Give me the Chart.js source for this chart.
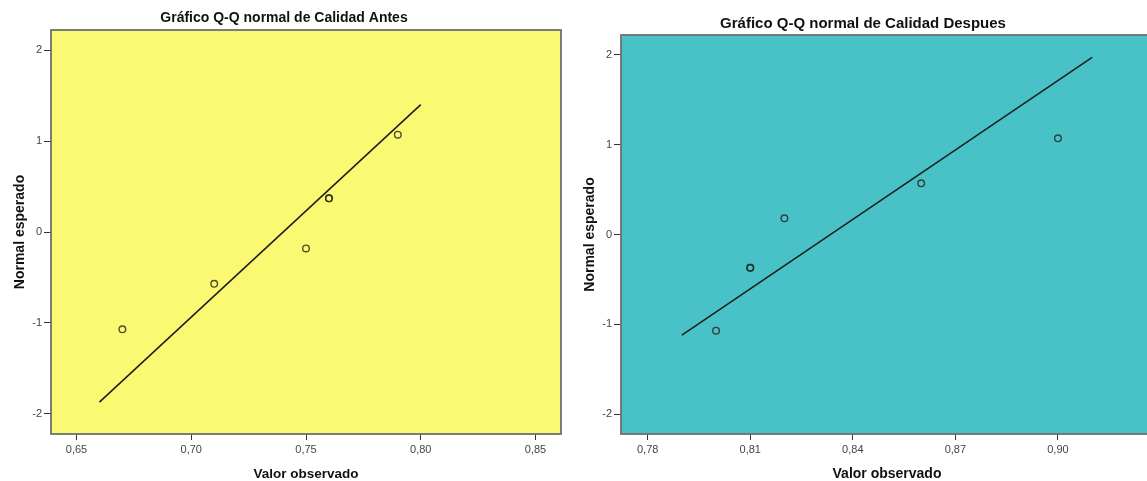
<!DOCTYPE html>
<html>
<head>
<meta charset="utf-8">
<script src="https://cdn.jsdelivr.net/npm/chart.js@4.4.1/dist/chart.umd.min.js"></script>
<style>
  html, body { margin: 0; padding: 0; background: #ffffff; overflow: hidden; width: 1147px; height: 481px; }
  #antes { position: absolute; left: 0; top: 0; }
  #despues { position: absolute; left: 573px; top: 0; }
</style>
</head>
<body>
<canvas id="antes" width="573" height="481"></canvas>
<canvas id="despues" width="600" height="481"></canvas>
<script>
// Calidad Antes: observed values, expected normal scores and reference line
const antesObservado = [0.67, 0.71, 0.75, 0.76, 0.76, 0.79];
const antesEsperado  = [-1.07, -0.57, -0.18, 0.37, 0.37, 1.07];
const antesLineaX    = [0.66, 0.80];
const antesLineaY    = [-1.87, 1.40];
const antesTicksX    = [0.65, 0.70, 0.75, 0.80, 0.85];

// Calidad Despues
const despuesObservado = [0.80, 0.81, 0.81, 0.82, 0.86, 0.90];
const despuesEsperado  = [-1.07, -0.37, -0.37, 0.18, 0.57, 1.07];
const despuesLineaX    = [0.79, 0.91];
const despuesLineaY    = [-1.12, 1.97];
const despuesTicksX    = [0.78, 0.81, 0.84, 0.87, 0.90];

const ticksY = [-2, -1, 0, 1, 2];

const FONT = '"Liberation Sans", Arial, sans-serif';

// Fills the plot area and frames it
const plotFrame = {
  id: 'plotFrame',
  beforeDraw(chart, args, opts) {
    const { ctx, chartArea: a } = chart;
    ctx.save();
    ctx.fillStyle = opts.fill;
    ctx.fillRect(a.left, a.top, a.right - a.left, a.bottom - a.top);
    ctx.restore();
  },
  afterDraw(chart, args, opts) {
    const { ctx, chartArea: a } = chart;
    ctx.save();
    ctx.strokeStyle = opts.stroke;
    ctx.lineWidth = opts.width;
    ctx.strokeRect(a.left, a.top, a.right - a.left, a.bottom - a.top);
    ctx.restore();
  }
};

const pairs = (xs, ys) => xs.map((x, i) => ({ x: x, y: ys[i] }));

function qqChart(id, s) {
  return new Chart(document.getElementById(id), {
    type: 'scatter',
    data: {
      datasets: [
        {
          data: pairs(s.lineX, s.lineY),
          showLine: true,
          pointRadius: 0,
          borderColor: '#1c1c1c',
          borderWidth: 1.5,
          fill: false,
          order: 2
        },
        {
          data: pairs(s.obs, s.esp),
          showLine: false,
          pointRadius: 3.3,
          pointBorderWidth: 1.4,
          pointBorderColor: 'rgba(35,35,25,0.8)',
          pointBackgroundColor: 'rgba(0,0,0,0)',
          order: 1
        }
      ]
    },
    options: {
      responsive: false,
      animation: false,
      devicePixelRatio: 1,
      layout: { padding: { left: s.padL, right: s.padR, top: 0, bottom: 0 } },
      plugins: {
        legend: { display: false },
        tooltip: { enabled: false },
        title: {
          display: true,
          text: s.title,
          color: '#111111',
          font: { family: FONT, size: s.titleSize, weight: 'bold', lineHeight: 1.2 },
          padding: { top: s.titleTop, bottom: s.titleBottom }
        },
        plotFrame: { fill: s.fill, stroke: '#6f6f6f', width: 1.8 }
      },
      scales: {
        x: {
          type: 'linear',
          min: s.xMin,
          max: s.xMax,
          afterBuildTicks: sc => { sc.ticks = s.ticksX.map(v => ({ value: v })); },
          afterFit: sc => { sc.height = 47; },
          grid: { drawOnChartArea: false, drawTicks: true, tickLength: 6, color: '#333333', lineWidth: 1 },
          border: { display: false },
          ticks: {
            padding: 3,
            color: '#444444',
            font: { family: FONT, size: 11 },
            maxRotation: 0,
            autoSkip: false,
            callback: v => v.toFixed(2).replace('.', ',')
          },
          title: {
            display: true,
            text: 'Valor observado',
            color: '#111111',
            font: { family: FONT, size: s.axisTitleSize, weight: 'bold', lineHeight: 1 },
            padding: { top: 0, bottom: 0 }
          }
        },
        y: {
          type: 'linear',
          min: -2.22,
          max: 2.22,
          afterBuildTicks: sc => { sc.ticks = ticksY.map(v => ({ value: v })); },
          afterFit: sc => { sc.width = s.yAxisW; },
          grid: { drawOnChartArea: false, drawTicks: true, tickLength: 7, color: '#333333', lineWidth: 1 },
          border: { display: false },
          ticks: {
            padding: 2,
            color: '#444444',
            font: { family: FONT, size: 11 },
            callback: v => String(v)
          },
          title: {
            display: true,
            text: 'Normal esperado',
            color: '#111111',
            font: { family: FONT, size: 14, weight: 'bold', lineHeight: 1 },
            padding: { top: s.yTitlePad, bottom: 0 }
          }
        }
      }
    },
    plugins: [plotFrame]
  });
}

qqChart('antes', {
  title: 'Gráfico Q-Q normal de Calidad Antes',
  obs: antesObservado, esp: antesEsperado,
  lineX: antesLineaX, lineY: antesLineaY,
  ticksX: antesTicksX,
  xMin: 0.6389, xMax: 0.8611,
  fill: '#fbf872',
  padL: 7, padR: 12, yAxisW: 44, yTitlePad: 6,
  titleSize: 14, titleTop: 9.6, titleBottom: 3.6,
  axisTitleSize: 13.5
});

qqChart('despues', {
  title: 'Gráfico Q-Q normal de Calidad Despues',
  obs: despuesObservado, esp: despuesEsperado,
  lineX: despuesLineaX, lineY: despuesLineaY,
  ticksX: despuesTicksX,
  xMin: 0.7722, xMax: 0.9278,
  fill: '#48c2c6',
  padL: 0, padR: 20, yAxisW: 48, yTitlePad: 10,
  titleSize: 15, titleTop: 15, titleBottom: 2,
  axisTitleSize: 14
});
</script>
</body>
</html>
